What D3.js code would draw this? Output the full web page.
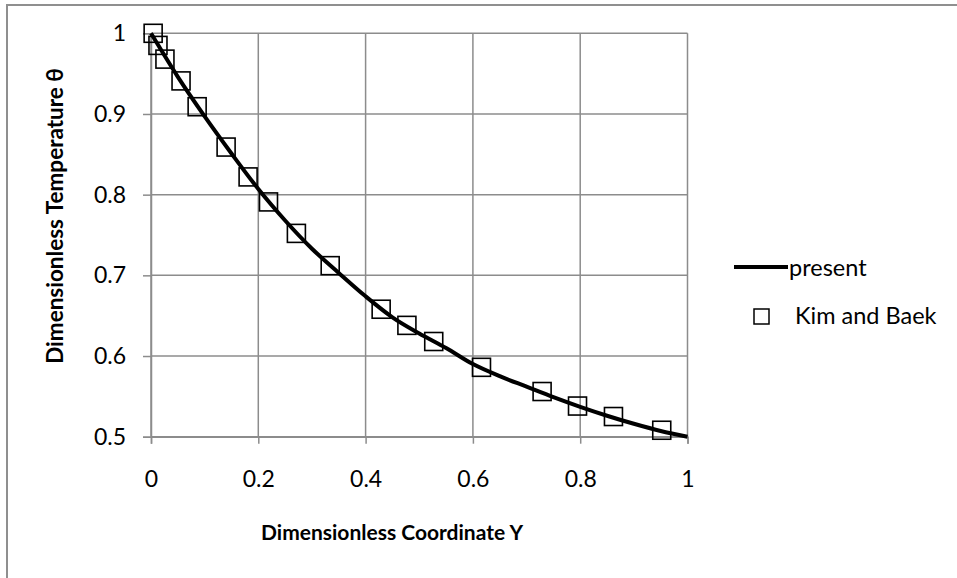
<!DOCTYPE html>
<html lang="en">
<head>
<meta charset="UTF-8">
<title>Dimensionless Temperature</title>
<script src="https://d3js.org/d3.v7.min.js"></script>
<style>
    body { margin: 0; background: #fff; }
    text { font-family: Lato, "Open Sans", sans-serif; fill: #000; }
    .tick text { font-size: 23px; }
    .title { font-weight: bold; }
    .legend { font-size: 23.5px; }
</style>
</head>
<body>
<svg width="957" height="578"></svg>
<script>
    // present solution (line)
    const presentY = [0, 0.05, 0.1, 0.15, 0.2, 0.25, 0.3, 0.35, 0.4, 0.45, 0.5,
                      0.55, 0.6, 0.65, 0.7, 0.75, 0.8, 0.85, 0.9, 0.95, 1];
    const presentTheta = [1.0, 0.946, 0.897, 0.851, 0.807, 0.768, 0.733, 0.703, 0.674, 0.648, 0.628,
                          0.610, 0.590, 0.575, 0.562, 0.549, 0.537, 0.526, 0.516, 0.507, 0.5];

    // Kim and Baek (squares)
    const kimY = [0.004, 0.013, 0.026, 0.056, 0.086, 0.140, 0.181, 0.219, 0.271, 0.334,
                  0.429, 0.477, 0.527, 0.616, 0.729, 0.795, 0.862, 0.952];
    const kimTheta = [1.0, 0.985, 0.968, 0.941, 0.909, 0.859, 0.822, 0.791, 0.752, 0.712,
                      0.658, 0.638, 0.618, 0.586, 0.556, 0.538, 0.525, 0.508];

    const xTicks = [0, 0.2, 0.4, 0.6, 0.8, 1];
    const yTicks = [0.5, 0.6, 0.7, 0.8, 0.9, 1];

    const svg = d3.select("svg");
    const gridColor = "#8c8c8c";

    // outer chart frame (only top and left edges show in the window)
    svg.append("rect")
        .attr("x", 7).attr("y", 5)
        .attr("width", 1000).attr("height", 1000)
        .attr("fill", "none")
        .attr("stroke", "#8f8f8f")
        .attr("stroke-width", 2);

    const plotL = 151, plotT = 33.3, plotW = 536.5, plotH = 403.4;

    const x = d3.scaleLinear().domain([0, 1]).range([plotL, plotL + plotW]);
    const y = d3.scaleLinear().domain([0.5, 1]).range([plotT + plotH, plotT]);

    // gridlines
    svg.append("g")
        .selectAll("line")
        .data(xTicks)
        .join("line")
        .attr("x1", d => x(d)).attr("x2", d => x(d))
        .attr("y1", plotT).attr("y2", plotT + plotH)
        .attr("stroke", gridColor).attr("stroke-width", 1.5);

    svg.append("g")
        .selectAll("line")
        .data(yTicks)
        .join("line")
        .attr("x1", plotL).attr("x2", plotL + plotW)
        .attr("y1", d => y(d)).attr("y2", d => y(d))
        .attr("stroke", gridColor).attr("stroke-width", 1.5);

    // axes
    const xAxis = svg.append("g")
        .attr("transform", `translate(0,${plotT + plotH})`)
        .call(d3.axisBottom(x).tickValues(xTicks).tickFormat(d3.format("~g"))
            .tickSize(7).tickPadding(27));
    const yAxis = svg.append("g")
        .attr("transform", `translate(${plotL},0)`)
        .call(d3.axisLeft(y).tickValues(yTicks).tickFormat(d3.format("~g"))
            .tickSize(8).tickPadding(17));

    [xAxis, yAxis].forEach(g => {
        g.attr("font-family", null).attr("font-size", null);
        g.select(".domain").attr("stroke", gridColor).attr("stroke-width", 1.5);
        g.selectAll(".tick line").attr("stroke", gridColor).attr("stroke-width", 1.5);
    });

    // axis titles
    svg.append("text")
        .attr("class", "title")
        .attr("x", 392).attr("y", 540)
        .attr("text-anchor", "middle")
        .style("font-size", "21px")
        .text("Dimensionless Coordinate Y");

    svg.append("text")
        .attr("class", "title")
        .attr("transform", "translate(63,216) rotate(-90)")
        .attr("text-anchor", "middle")
        .style("font-size", "22.5px")
        .text("Dimensionless Temperature θ");

    // Kim and Baek markers
    const sq = 18;
    svg.append("g")
        .selectAll("rect")
        .data(kimY.map((v, i) => [v, kimTheta[i]]))
        .join("rect")
        .attr("x", d => x(d[0]) - sq / 2)
        .attr("y", d => y(d[1]) - sq / 2)
        .attr("width", sq).attr("height", sq)
        .attr("fill", "none")
        .attr("stroke", "#000")
        .attr("stroke-width", 1.6);

    // present line
    const line = d3.line()
        .x(d => x(d[0]))
        .y(d => y(d[1]))
        .curve(d3.curveMonotoneX);

    svg.append("path")
        .datum(presentY.map((v, i) => [v, presentTheta[i]]))
        .attr("d", line)
        .attr("fill", "none")
        .attr("stroke", "#000")
        .attr("stroke-width", 4);

    // legend
    const lg = svg.append("g");
    lg.append("line")
        .attr("x1", 734).attr("x2", 788)
        .attr("y1", 267).attr("y2", 267)
        .attr("stroke", "#000").attr("stroke-width", 4);
    lg.append("text")
        .attr("class", "legend")
        .attr("x", 789).attr("y", 276)
        .text("present");
    lg.append("rect")
        .attr("x", 754).attr("y", 309)
        .attr("width", 15).attr("height", 15)
        .attr("fill", "none")
        .attr("stroke", "#000").attr("stroke-width", 1.5);
    lg.append("text")
        .attr("class", "legend")
        .attr("x", 795).attr("y", 324)
        .text("Kim and Baek");
</script>
</body>
</html>
